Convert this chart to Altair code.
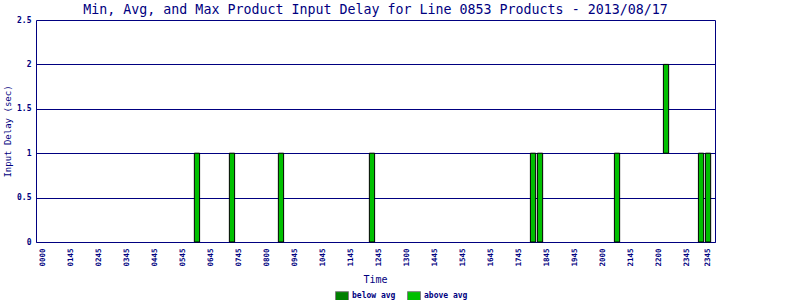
import altair as alt
import pandas as pd

title_text = "Min, Avg, and Max Product Input Delay for Line 0853 Products - 2013/08/17"

# 96 time slots along the day
n_slots = 96
slots = list(range(n_slots))

tick_slots = [0, 4, 8, 12, 16, 20, 24, 28, 32, 36, 40, 44, 48, 52, 56, 60,
              64, 68, 72, 76, 80, 84, 88, 92, 95]
tick_labels = ["0000", "0145", "0245", "0345", "0445", "0545", "0645", "0745",
               "0800", "0945", "1045", "1145", "1245", "1300", "1445", "1545",
               "1645", "1745", "1845", "1945", "2000", "2145", "2200", "2345",
               "2345"]

bar_slots = [22, 27, 34, 47, 70, 71, 82, 89, 94, 95]
bar_min = [0, 0, 0, 0, 0, 0, 0, 1, 0, 0]
bar_max = [1, 1, 1, 1, 1, 1, 1, 2, 1, 1]
bar_group = ["above avg"] * 10

legend_groups = ["below avg", "above avg"]
legend_colors = ["#008000", "#00c000"]

y_ticks = [0, 0.5, 1, 1.5, 2, 2.5]

df = pd.DataFrame({"slot": bar_slots, "low": bar_min, "high": bar_max,
                   "group": bar_group})

navy = "#000080"
mono = "DejaVu Sans Mono"

label_expr = ("[" + ",".join(f"'{l}'" for l in tick_labels) + "][indexof(["
              + ",".join(str(s) for s in tick_slots) + "], datum.value)]")

yscale = alt.Scale(domain=[0, 2.5], nice=False)

bars = alt.Chart(df).mark_bar(stroke="black", strokeWidth=1).encode(
    x=alt.X("slot:O",
            scale=alt.Scale(domain=slots, paddingInner=0.25, paddingOuter=0.62),
            axis=alt.Axis(values=tick_slots, labelExpr=label_expr,
                          labelAngle=270, labelAlign="right",
                          labelBaseline="middle", labelPadding=6,
                          labelFontSize=7.5,
                          labelOverlap=False, ticks=False, grid=False,
                          title="Time", titleX=339, titleY=37,
                          titleFontSize=10, titleBaseline="middle")),
    y=alt.Y("low:Q", scale=yscale,
            axis=alt.Axis(values=y_ticks, format="~g", grid=True,
                          gridColor=navy, gridOpacity=1, ticks=False,
                          labelPadding=5, title="Input Delay (sec)",
                          titleFontSize=9,
                          titleX=-29, titleY=111, titleAngle=270,
                          titleAlign="center", titleBaseline="middle")),
    y2="high:Q",
    color=alt.Color("group:N",
                    scale=alt.Scale(domain=legend_groups, range=legend_colors),
                    legend=alt.Legend(title=None, orient="none",
                                      legendX=299, legendY=269,
                                      direction="horizontal",
                                      symbolType="M-1,-0.7L1,-0.7L1,0.7L-1,0.7Z",
                                      symbolSize=169,
                                      symbolStrokeColor="#808080",
                                      symbolStrokeWidth=1,
                                      symbolOpacity=1,
                                      labelFont=mono, labelFontSize=8,
                                      labelFontWeight="bold",
                                      labelColor=navy, columnPadding=9,
                                      labelOffset=3, padding=0)),
)

right_axis = alt.Chart(df).mark_point(opacity=0).encode(
    y=alt.Y("low:Q", scale=yscale,
            axis=alt.Axis(orient="right", labels=False, ticks=False,
                          grid=False, title=None, domainColor=navy)),
)

chart = alt.layer(bars, right_axis).resolve_axis(y="independent").properties(
    width=679, height=222,
    autosize=alt.AutoSizeParams(type="none"),
    padding={"left": 36, "top": 20, "right": 85, "bottom": 58},
    title=alt.Title(title_text, font=mono, fontSize=13.3, fontWeight="normal",
                    color=navy, anchor="middle", offset=0),
    background="white",
).configure_view(stroke=None).configure_axis(
    domainColor=navy, domainWidth=1, labelColor=navy, titleColor=navy,
    labelFont=mono, titleFont=mono, titleFontWeight="normal",
    labelFontWeight="bold", labelFontSize=8, titleFontSize=10,
)

chart.save("out.html", embed_options={"renderer": "svg", "actions": False})
